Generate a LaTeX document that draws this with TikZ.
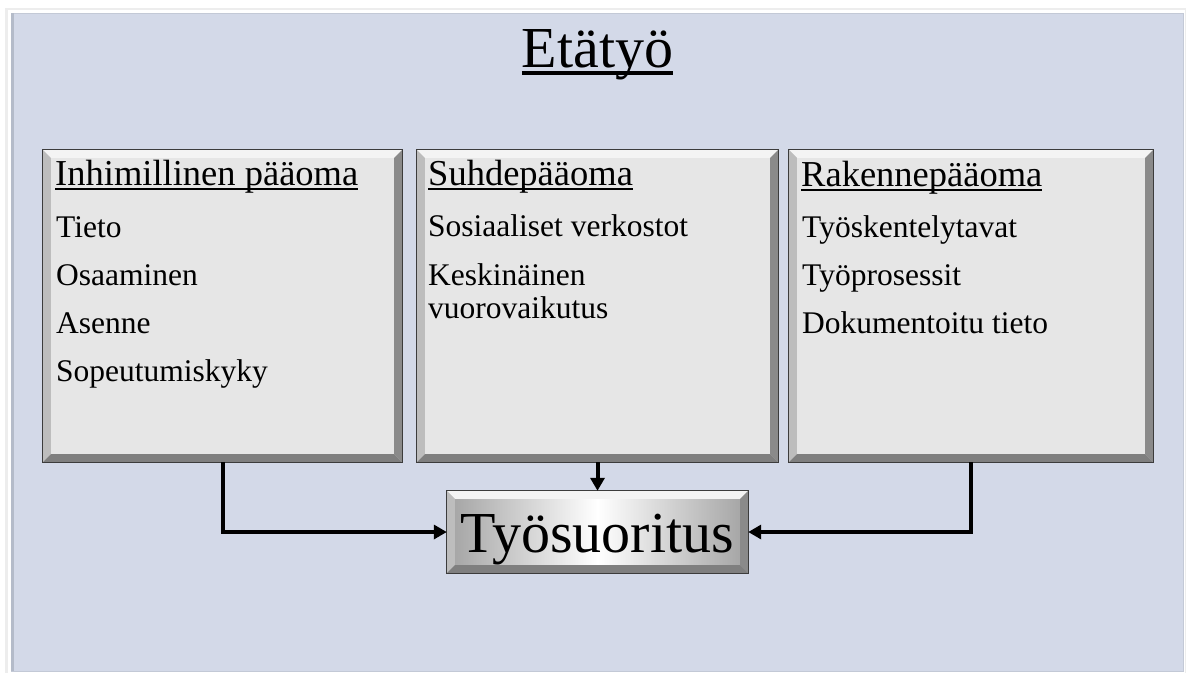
\documentclass[tikz,border=0pt]{standalone}
\usepackage{fontspec}
\setmainfont{Liberation Serif}
\usetikzlibrary{arrows.meta,calc}

\definecolor{panelfill}{HTML}{D3D9E8}
\definecolor{paneledge}{HTML}{C3C9D6}
\definecolor{panelside}{HTML}{B4BBC9}
\definecolor{pageshade}{HTML}{EDEDED}
\definecolor{facefill}{HTML}{E6E6E6}
\definecolor{beveltop}{HTML}{F4F4F4}
\definecolor{bevelleft}{HTML}{BDBDBD}
\definecolor{bevelright}{HTML}{8A8A8A}
\definecolor{bevelbottom}{HTML}{7F7F7F}
\definecolor{boxline}{HTML}{3C3C3C}
\definecolor{sidegray}{HTML}{A2A2A2}

% underlined text with the rule crossing the descenders
\newsavebox\ulbox
\newcommand\ultext[1]{\sbox\ulbox{#1}\rlap{\rule[-0.13em]{\wd\ulbox}{0.055em}}\usebox\ulbox}

% bevelled edges of a rectangular node: light top/left, dark right/bottom
\newcommand\bevelframe[2]{%
  \fill[beveltop] (#1.north west) -- (#1.north east) -- ($(#1.north east)+(-#2,#2)$) -- ($(#1.north west)+(#2,#2)$) -- cycle;
  \fill[bevelleft] (#1.north west) -- ($(#1.north west)+(#2,#2)$) -- ($(#1.south west)+(#2,-#2)$) -- (#1.south west) -- cycle;
  \fill[bevelright] (#1.north east) -- (#1.south east) -- ($(#1.south east)+(-#2,-#2)$) -- ($(#1.north east)+(-#2,#2)$) -- cycle;
  \fill[bevelbottom] (#1.south west) -- ($(#1.south west)+(#2,-#2)$) -- ($(#1.south east)+(-#2,-#2)$) -- (#1.south east) -- cycle;
  \draw[boxline, line width=1pt] (#1.north west) rectangle (#1.south east);
}

\tikzset{
  capbox/.style={rectangle, fill=facefill, minimum height=312pt, inner sep=0pt},
  resultbox/.style={rectangle, left color=sidegray, right color=sidegray, middle color=white,
                    minimum width=301pt, minimum height=82pt, inner sep=0pt},
  headtext/.style={anchor=base west, inner sep=0pt, font=\fontsize{36.5}{40}\selectfont},
  itemtext/.style={anchor=base west, inner sep=0pt, font=\fontsize{31.5}{34}\selectfont},
  flow/.style={line width=4pt, -{Triangle[length=13pt,width=14pt]}},
}

\begin{document}
\begin{tikzpicture}[x=1pt, y=-1pt]
  % page and background panel
  \fill[white] (0,0) rectangle (1188,673);
  \useasboundingbox (0,0) rectangle (1188,673);
  \fill[pageshade] (5,8) rectangle (1186,673);
  \fill[white] (8,10) rectangle (1185,673);
  \fill[panelfill] (11,13) rectangle (1183,671);
  \draw[paneledge, line width=0.8pt] (11,13) rectangle (1183,671);
  \fill[panelside] (11,13) rectangle (14,671);

  % title
  \node[anchor=base, inner sep=0pt, font=\fontsize{58}{60}\selectfont] (title) at (597.5,67) {\ultext{Etätyö}};

  % three capital boxes
  \node[capbox, minimum width=359pt] (human) at (222.5,306) {};
  \node[capbox, minimum width=361pt] (relation) at (597.5,306) {};
  \node[capbox, minimum width=364pt] (structure) at (971,306) {};
  \bevelframe{human}{8}
  \bevelframe{relation}{8}
  \bevelframe{structure}{8}

  % result box
  \node[resultbox] (perf) at (597.5,532) {};
  \bevelframe{perf}{8}
  \node[anchor=base, inner sep=0pt, font=\fontsize{58}{60}\selectfont] (perftext) at (597.5,552) {Työsuoritus};

  % texts of the left box
  \node[headtext] (h1) at (55,185) {\ultext{Inhimillinen pääoma}};
  \node[itemtext] (h1a) at (56,237) {Tieto};
  \node[itemtext] (h1b) at (56,285) {Osaaminen};
  \node[itemtext] (h1c) at (56,333) {Asenne};
  \node[itemtext] (h1d) at (56,381) {Sopeutumiskyky};

  % texts of the middle box
  \node[headtext] (h2) at (428,185) {\ultext{Suhdepääoma}};
  \node[itemtext] (h2a) at (428,236) {Sosiaaliset verkostot};
  \node[itemtext] (h2b) at (428,285) {Keskinäinen};
  \node[itemtext] (h2c) at (428,318) {vuorovaikutus};

  % texts of the right box
  \node[headtext] (h3) at (801,186) {\ultext{Rakennepääoma}};
  \node[itemtext] (h3a) at (802,237) {Työskentelytavat};
  \node[itemtext] (h3b) at (802,285) {Työprosessit};
  \node[itemtext] (h3c) at (802,333) {Dokumentoitu tieto};

  % connectors
  \draw[flow] (human.south) |- (perf.west);
  \draw[flow] (relation.south) -- (perf.north);
  \draw[flow] (structure.south) |- (perf.east);
\end{tikzpicture}
\end{document}
